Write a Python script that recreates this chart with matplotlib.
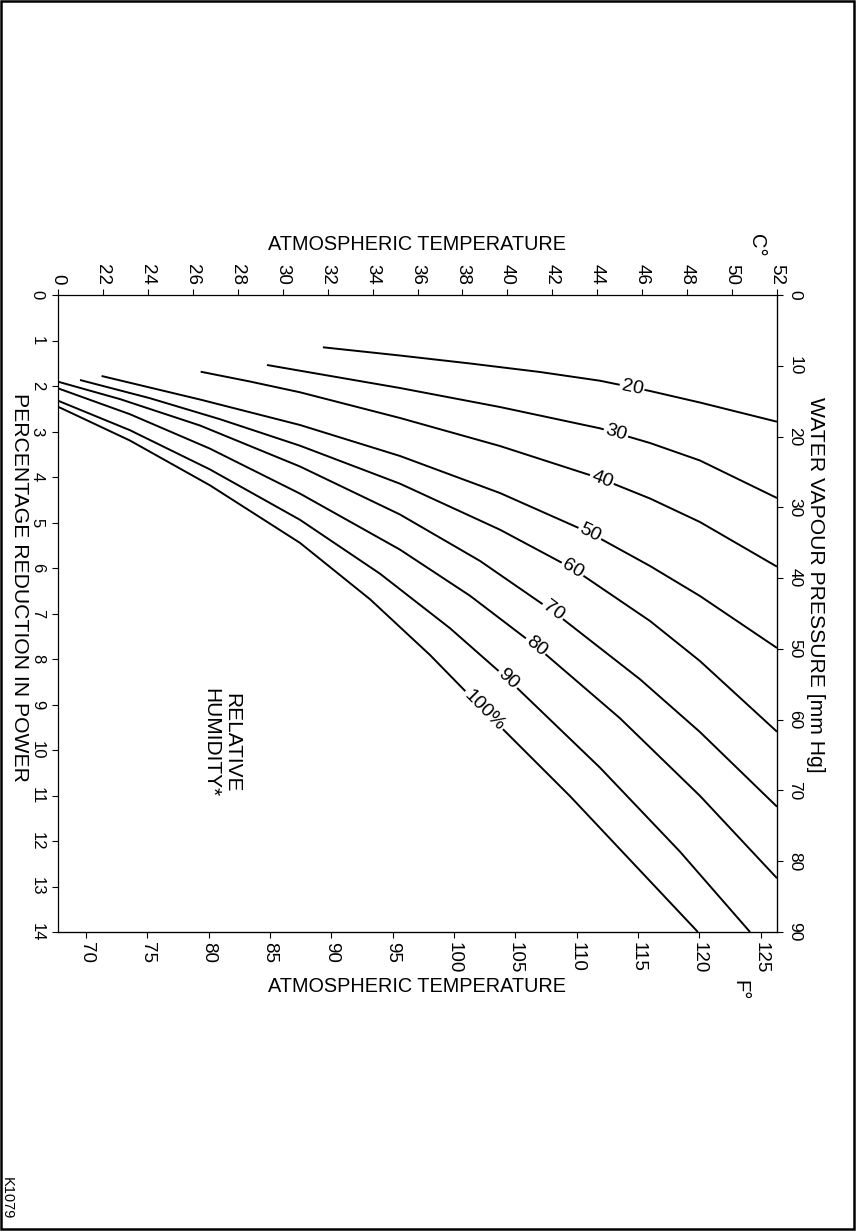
import numpy as np
import matplotlib
matplotlib.use("Agg")
import matplotlib.pyplot as plt
from matplotlib.patches import Rectangle

plt.rcParams["font.family"] = ["Liberation Sans", "DejaVu Sans"]

# relative humidity curves, atmospheric temperature [C] vs percentage reduction in power
rh_labels = ["20", "30", "40", "50", "60", "70", "80", "90", "100%"]
curve_temp = [
    [31.79, 35.22, 38.34, 41.45, 44.12, 46.35, 48.57, 52.0],
    [29.30, 30.77, 35.22, 39.67, 44.12, 46.35, 48.57, 52.0],
    [26.35, 28.54, 30.77, 35.22, 39.67, 44.12, 46.35, 48.57, 52.0],
    [21.94, 26.32, 30.77, 35.22, 39.67, 43.68, 46.35, 48.57, 52.0],
    [20.98, 24.09, 27.21, 30.77, 35.22, 39.67, 42.92, 46.35, 48.57, 52.0],
    [20.0, 22.76, 26.32, 30.77, 35.22, 38.78, 42.03, 45.90, 48.57, 52.0],
    [20.0, 23.20, 26.76, 30.77, 35.22, 38.34, 41.27, 45.01, 48.57, 52.0],
    [20.0, 23.20, 26.76, 30.77, 34.33, 37.45, 40.03, 44.12, 47.68, 50.80],
    [20.0, 23.20, 26.76, 30.77, 33.89, 36.56, 39.0, 42.79, 48.48],
]
curve_pct = [
    [1.149, 1.330, 1.505, 1.692, 1.884, 2.110, 2.363, 2.785],
    [1.538, 1.664, 2.044, 2.462, 2.930, 3.253, 3.637, 4.462],
    [1.686, 1.901, 2.138, 2.703, 3.319, 4.029, 4.473, 4.989, 5.971],
    [1.780, 2.297, 2.857, 3.538, 4.352, 5.231, 5.956, 6.615, 7.758],
    [1.868, 2.268, 2.730, 3.312, 4.147, 5.158, 6.015, 7.165, 8.044, 9.598],
    [1.905, 2.288, 2.868, 3.769, 4.824, 5.844, 6.952, 8.444, 9.604, 11.246],
    [2.051, 2.620, 3.376, 4.365, 5.596, 6.611, 7.714, 9.301, 11.007, 12.818],
    [2.323, 2.971, 3.833, 4.941, 6.125, 7.325, 8.446, 10.387, 12.233, 14.0],
    [2.455, 3.198, 4.182, 5.448, 6.688, 7.914, 9.147, 11.015, 14.0],
]
# where the labels sit along each curve (temperature, C)
label_temp = [45.55, 44.83, 44.21, 43.68, 42.92, 42.03, 41.27, 40.03, 38.96]

c_ticks = list(range(20, 53, 2))
c_ticklabels = ["0"] + [str(t) for t in c_ticks[1:]]
f_ticks = list(range(70, 126, 5))
pct_ticks = list(range(0, 15))
mm_ticks = list(range(0, 91, 10))

W, H = 861, 1231


def fx(px):
    return px / W


def fy(py):
    return 1 - py / H


# scale as printed: the F axis is slightly off the true conversion
def c_to_f(c):
    return 67.717 + 1.8318 * (np.asarray(c) - 20)


def f_to_c(f):
    return 20 + (np.asarray(f) - 67.717) / 1.8318


def pct_to_mm(p):
    return np.asarray(p) * 90.0 / 14.0


def mm_to_pct(m):
    return np.asarray(m) * 14.0 / 90.0


fig = plt.figure(figsize=(W / 100, H / 100), dpi=100)
ax = fig.add_axes([fx(58), fy(932), fx(777) - fx(58), fy(295) - fy(932)])
ax.set_xlim(20, 52)
ax.set_ylim(14, 0)

for s in ax.spines.values():
    s.set_linewidth(0.9)

tick_kw = dict(direction="out", length=4.5, width=0.8)

ax.xaxis.tick_top()
ax.set_xticks(c_ticks)
ax.set_xticklabels(c_ticklabels, rotation=-90)
ax.tick_params(axis="x", pad=3, labelsize=13.5, **tick_kw)

ax.set_yticks(pct_ticks)
ax.set_yticklabels([str(p) for p in pct_ticks], rotation=-90, va="center")
ax.tick_params(axis="y", pad=5, labelsize=12, **tick_kw)

secx = ax.secondary_xaxis("bottom", functions=(c_to_f, f_to_c))
secx.set_xticks(f_ticks)
secx.set_xticklabels([str(f) for f in f_ticks], rotation=-90)
secx.tick_params(axis="x", pad=3, labelsize=13.5, **tick_kw)

secy = ax.secondary_yaxis("right", functions=(pct_to_mm, mm_to_pct))
secy.set_yticks(mm_ticks)
secy.set_yticklabels([str(m) for m in mm_ticks], rotation=-90, va="center")
secy.tick_params(axis="y", pad=3, labelsize=12.5, **tick_kw)

# curves
for t, p in zip(curve_temp, curve_pct):
    ax.plot(t, p, color="black", lw=1.4, solid_capstyle="butt")

# inline labels, turned along the curve
for t, p, lab, lt in zip(curve_temp, curve_pct, rh_labels, label_temp):
    lp = np.interp(lt, t, p)
    a = ax.transData.transform((lt - 0.5, np.interp(lt - 0.5, t, p)))
    b = ax.transData.transform((lt + 0.5, np.interp(lt + 0.5, t, p)))
    ang = np.degrees(np.arctan2(b[1] - a[1], b[0] - a[0]))
    ax.text(lt, lp, lab, rotation=ang, rotation_mode="anchor",
            ha="center", va="center", fontsize=14,
            bbox=dict(facecolor="white", edgecolor="none", pad=1.2))

fig.text(fx(221), fy(688), "RELATIVE\nHUMIDITY*", rotation=-90,
         ha="center", va="top", fontsize=15, linespacing=1.1)

# axis titles
fig.text(fx(417), fy(245), "ATMOSPHERIC TEMPERATURE", ha="center", va="center", fontsize=14.3)
fig.text(fx(417), fy(987), "ATMOSPHERIC TEMPERATURE", ha="center", va="center", fontsize=14.3)
fig.text(fx(757), fy(245), "C°", rotation=-90, ha="center", va="center", fontsize=14.5)
fig.text(fx(740), fy(990), "F°", rotation=-90, ha="center", va="center", fontsize=14.5)
fig.text(fx(19), fy(587), "PERCENTAGE REDUCTION IN POWER", rotation=-90,
         ha="center", va="center", fontsize=15.2)
fig.text(fx(816), fy(585), "WATER VAPOUR PRESSURE [mm Hg]", rotation=-90,
         ha="center", va="center", fontsize=15.2)
fig.text(fx(7), fy(1198), "K1079", rotation=-90, ha="center", va="center", fontsize=10.5)

fig.add_artist(Rectangle((fx(1), fy(1229)), fx(854) - fx(1), fy(1) - fy(1229),
                         transform=fig.transFigure, fill=False, lw=1.8, ec="black"))

fig.savefig("out.png", dpi=100)
